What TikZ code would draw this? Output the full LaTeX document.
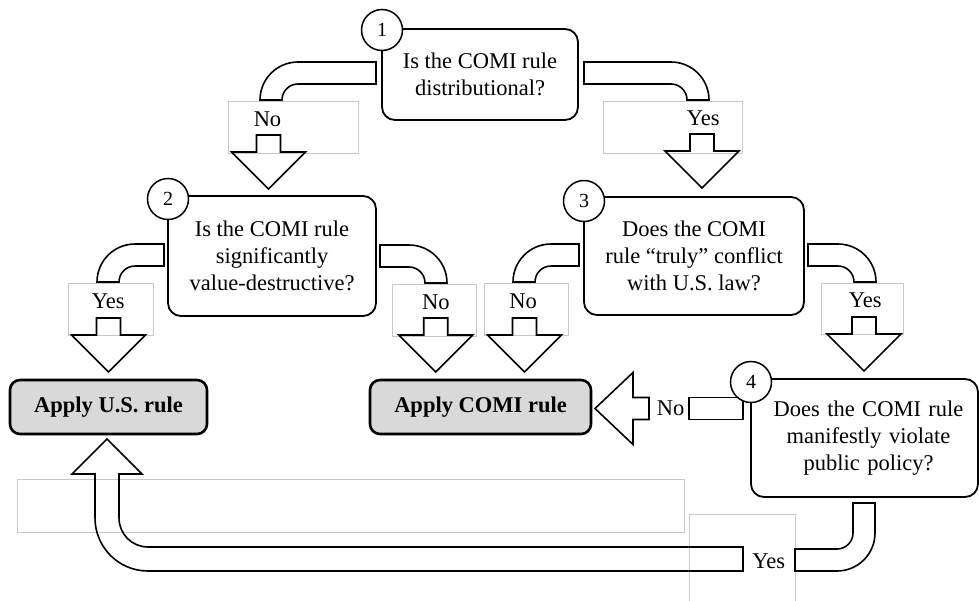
\documentclass[tikz,border=0pt]{standalone}
\usepackage{fontspec}
\setmainfont{Liberation Serif}
\definecolor{boxgray}{HTML}{D9D9D9}
\definecolor{lblgray}{HTML}{C8C8C8}
\begin{document}
\begin{tikzpicture}[x=1pt,y=-1pt,
  every node/.style={font=\fontsize{22.5}{26.7}\selectfont, outer sep=0pt},
  qbox/.style={draw, line width=1.8pt, rounded corners=13pt, align=center, inner sep=0pt},
  numc/.style={draw, circle, fill=white, line width=1.5pt, minimum size=41pt, inner sep=0pt, font=\fontsize{20}{22}\selectfont},
  resbox/.style={draw, line width=2.6pt, rounded corners=10pt, fill=boxgray, inner sep=0pt, font=\fontsize{22.5}{26}\selectfont\bfseries},
  blk/.style={draw, line width=1.6pt, line join=miter},
  lblbox/.style={draw=lblgray, line width=0.8pt},
  lbl/.style={anchor=base, inner sep=0pt},
  dnarr/.pic={\draw[blk] (-12,0) -- (12,0) -- (12,17) -- (37,17) -- (0,54) -- (-37,17) -- (-12,17) -- cycle;}
]
\useasboundingbox (0,0) rectangle (979,600);

% faint empty text frames
\draw[lblbox] (228,101) rectangle (358,153);
\draw[lblbox] (603,101) rectangle (742,153);
\draw[lblbox] (68,283) rectangle (153,335);
\draw[lblbox] (392,284) rectangle (476,336);
\draw[lblbox] (484,283) rectangle (568,335);
\draw[lblbox] (821,283) rectangle (903,334);
\draw[lblbox] (17,479) rectangle (684,532);
\draw[lblbox] (689,514) rectangle (795,602);

% boxes
\node[qbox, minimum width=196pt, minimum height=91pt] (b1) at (480,74.5) {Is the COMI rule\\distributional?};
\node[qbox, minimum width=208pt, minimum height=120pt] (b2) at (272,256) {Is the COMI rule\\significantly\\value-destructive?};
\node[qbox, minimum width=220pt, minimum height=118pt] (b3) at (694,256) {Does the COMI\\rule \textquotedblleft truly\textquotedblright\ conflict\\with U.S. law?};
\node[qbox, minimum width=227pt, minimum height=118pt, text width=227pt] (b4) at (864.5,438) {\hspace*{8pt}Does the COMI rule\\\hspace*{8pt}manifestly violate\\\hspace*{8pt}public policy?};
\node[resbox, minimum width=197pt, minimum height=54pt] (us) at (108.5,407) {Apply U.S. rule};
\node[resbox, minimum width=221pt, minimum height=54pt] (comi) at (480.5,407) {Apply COMI rule};

% elbow shafts
\draw[blk] (376,62) -- (298,62) arc[start angle=270,end angle=180,radius=38] -- (282,100) arc[start angle=180,end angle=270,radius=16] -- (376,84) -- cycle;
\draw[blk] (584,62) -- (671,62) arc[start angle=270,end angle=360,radius=38] -- (687,100) arc[start angle=0,end angle=-90,radius=16] -- (584,84) -- cycle;
\draw[blk] (164,244) -- (135,244) arc[start angle=270,end angle=180,radius=38] -- (119,282) arc[start angle=180,end angle=270,radius=16] -- (164,266) -- cycle;
\draw[blk] (380,245) -- (409,245) arc[start angle=270,end angle=360,radius=38] -- (425,283) arc[start angle=0,end angle=-90,radius=16] -- (380,267) -- cycle;
\draw[blk] (579,244) -- (551,244) arc[start angle=270,end angle=180,radius=38] -- (535,282) arc[start angle=180,end angle=270,radius=16] -- (579,266) -- cycle;
\draw[blk] (808,244) -- (838,244) arc[start angle=270,end angle=360,radius=38] -- (854,282) arc[start angle=0,end angle=-90,radius=16] -- (808,266) -- cycle;
\draw[blk] (875,503) -- (875,533) arc[start angle=0,end angle=90,radius=38] -- (795,571) -- (795,549) -- (837,549) arc[start angle=90,end angle=0,radius=16] -- (853,503) -- cycle;

% block arrows down
\pic at (268.5,135) {dnarr};
\pic at (702,134) {dnarr};
\pic at (108.5,318) {dnarr};
\pic at (435.7,318) {dnarr};
\pic at (524.5,318) {dnarr};
\pic at (864,317) {dnarr};

% left arrow (No from 4)
\draw[blk] (649,397.5) -- (633,397.5) -- (633,372.5) -- (595,408.5) -- (633,444.5) -- (633,419.5) -- (649,419.5) -- cycle;
\draw[blk] (689,397.5) rectangle (743,419.5);

% long return arrow (Yes from 4)
\draw[blk] (743,547) -- (148,547) arc[start angle=90,end angle=180,radius=29] -- (119,474) -- (142,474) -- (107,439) -- (72,474) -- (95,474) -- (95,518) arc[start angle=180,end angle=90,radius=53] -- (743,571) -- cycle;

% number circles
\node[numc] (n1) at ([yshift=-1pt]b1.north west) {1};
\node[numc] (n2) at ([yshift=-3pt]b2.north west) {2};
\node[numc] (n3) at ([yshift=-4pt]b3.north west) {3};
\node[numc] (n4) at ([yshift=-3pt]b4.north west) {4};

% labels
\node[lbl] (l1) at (267.5,126.5) {No};
\node[lbl] (l2) at (703.3,125) {Yes};
\node[lbl] (l3) at (108.3,308) {Yes};
\node[lbl] (l4) at (435.8,309) {No};
\node[lbl] (l5) at (523,308) {No};
\node[lbl] (l6) at (865.3,307.7) {Yes};
\node[lbl] (l7) at (670.7,415) {No};
\node[lbl] (l8) at (768.7,568) {Yes};
\end{tikzpicture}
\end{document}
